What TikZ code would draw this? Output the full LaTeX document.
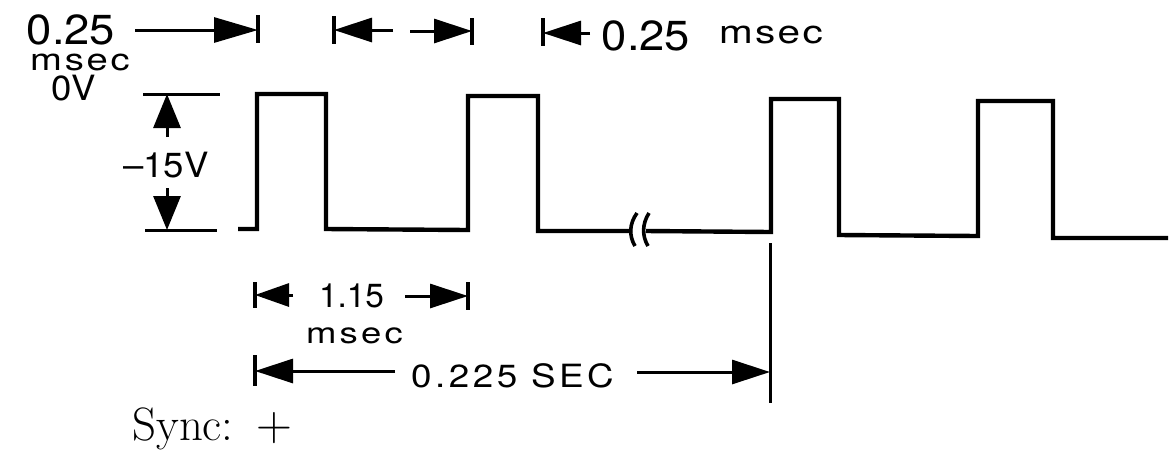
\documentclass[tikz,border=0pt]{standalone}
\usepackage{fontspec}
\newfontfamily\letfont{TeX Gyre Heros}
\usetikzlibrary{arrows.meta}
\begin{document}
\begin{tikzpicture}[x=0.5pt,y=-0.5pt,
  wave/.style={line width=2.2pt, line join=miter},
  tickline/.style={line width=1.6pt},
  refline/.style={line width=1.5pt},
  dim/.style={line width=1.5pt,-{Triangle[length=19pt,width=12pt]}},
  dimbig/.style={line width=1.5pt,-{Triangle[length=22pt,width=12.5pt]}},
  lbl/.style={inner sep=0pt, anchor=base},
  bignum/.style={lbl, font=\letfont\fontsize{21pt}{21pt}\selectfont\addfontfeature{FakeStretch=1.08}},
  midtxt/.style={lbl, font=\letfont\fontsize{17.4pt}{17.4pt}\selectfont\addfontfeature{FakeStretch=1.05}},
  unit/.style={lbl, font=\letfont\fontsize{15.3pt}{15.3pt}\selectfont\addfontfeature{FakeStretch=1.25,LetterSpace=9}},
  sectxt/.style={lbl, font=\letfont\fontsize{16pt}{16pt}\selectfont\addfontfeature{FakeStretch=1.15,LetterSpace=11}},
  numtxt/.style={lbl, font=\letfont\fontsize{16.7pt}{16.7pt}\selectfont},
]
\fill[white] (0,0) rectangle (1169,452);
\useasboundingbox (0,0) rectangle (1169,452);

% ---------- labels ----------
\node[bignum] (n025a) at (71,44) {0.25};
\node[unit] (msa) at (80,70) {msec};
\node[midtxt] (zv) at (73.5,100) {0V};
\node[midtxt] (m15) at (166,177) {–15V};
\node[bignum] (n025b) at (646,50) {0.25};
\node[unit, font=\letfont\fontsize{16.2pt}{16.2pt}\selectfont\addfontfeature{FakeStretch=1.25,LetterSpace=7}] (msb) at (771,43) {msec};
\node[numtxt] (n115) at (351.5,307) {1.15};
\node[unit, font=\letfont\fontsize{14.6pt}{14.6pt}\selectfont\addfontfeature{FakeStretch=1.25,LetterSpace=11}] (msc) at (354.5,343) {msec};
\node[sectxt] (n225) at (512.5,387) {0.225 SEC};
\node[lbl, anchor=base west, font=\fontsize{23.4pt}{23.4pt}\selectfont] (sync) at (132,440) {Sync:\hspace{11.5pt}$+$};

% ---------- coordinates ----------
\coordinate (a1s) at (135,30);   \coordinate (a1e) at (258,30);
\coordinate (k1t) at (258,15);   \coordinate (k1b) at (258,43);
\coordinate (k2t) at (334,16);   \coordinate (k2b) at (334,44);
\coordinate (a2s) at (393,30);   \coordinate (a2e) at (334,30);
\coordinate (a3s) at (410,31);   \coordinate (a3e) at (472,31);
\coordinate (k3t) at (472,18);   \coordinate (k3b) at (472,45);
\coordinate (k4t) at (543,18);   \coordinate (k4b) at (543,46);
\coordinate (a4s) at (590,33);   \coordinate (a4e) at (543,33);

\coordinate (r1a) at (143,94);   \coordinate (r1b) at (220,94);
\coordinate (r2a) at (145,230);  \coordinate (r2b) at (217,230);
\coordinate (v1s) at (167,137);  \coordinate (v1e) at (167,94);
\coordinate (v2s) at (167,188);  \coordinate (v2e) at (167,230);

\coordinate (k5t) at (255,282);  \coordinate (k5b) at (255,308);
\coordinate (a5s) at (293,295);  \coordinate (a5e) at (255,295);
\coordinate (a6s) at (405,296);  \coordinate (a6e) at (468,296);
\coordinate (k6t) at (468,282);  \coordinate (k6b) at (468,310);

\coordinate (k7t) at (255,355);  \coordinate (k7b) at (255,386);
\coordinate (a7s) at (395,371);  \coordinate (a7e) at (255,371);
\coordinate (a8s) at (637,372);  \coordinate (a8e) at (770,372);
\coordinate (vlt) at (770,243);  \coordinate (vlb) at (770,403);

% ---------- top dimensions ----------
\draw[dimbig] (a1s) -- (a1e);
\draw[tickline] (k1t) -- (k1b);
\draw[tickline] (k2t) -- (k2b);
\draw[dim] (a2s) -- (a2e);
\draw[dim] (a3s) -- (a3e);
\draw[tickline] (k3t) -- (k3b);
\draw[tickline] (k4t) -- (k4b);
\draw[dim] (a4s) -- (a4e);

% ---------- voltage dimension ----------
\draw[refline] (r1a) -- (r1b);
\draw[refline] (r2a) -- (r2b);
\draw[dim,-{Triangle[length=17pt,width=13.5pt]}] (v1s) -- (v1e);
\draw[dim,-{Triangle[length=17pt,width=13.5pt]}] (v2s) -- (v2e);

% ---------- waveform ----------
\draw[wave] (238,229) -- (257,229) -- (257,94) -- (326,94) -- (326,229)
  -- (468,230) -- (468,96) -- (538,96) -- (538,231) -- (632,231);
\draw[wave] (646,231) -- (771,232) -- (771,99) -- (839,99) -- (839,235)
  -- (978,236) -- (978,101) -- (1053,101) -- (1053,238) -- (1168,238);
\draw[line width=1.8pt] (637,213) .. controls (629,224) and (629,236) .. (635,246);
\draw[line width=1.8pt] (649,213) .. controls (642,224) and (642,236) .. (648,246);

% ---------- lower dimensions ----------
\draw[refline] (vlt) -- (vlb);
\draw[tickline] (k5t) -- (k5b);
\draw[dim,-{Triangle[length=17pt,width=11.5pt]}] (a5s) -- (a5e);
\draw[dim] (a6s) -- (a6e);
\draw[tickline] (k6t) -- (k6b);
\draw[tickline] (k7t) -- (k7b);
\draw[dim] (a7s) -- (a7e);
\draw[dim] (a8s) -- (a8e);
\end{tikzpicture}
\end{document}
